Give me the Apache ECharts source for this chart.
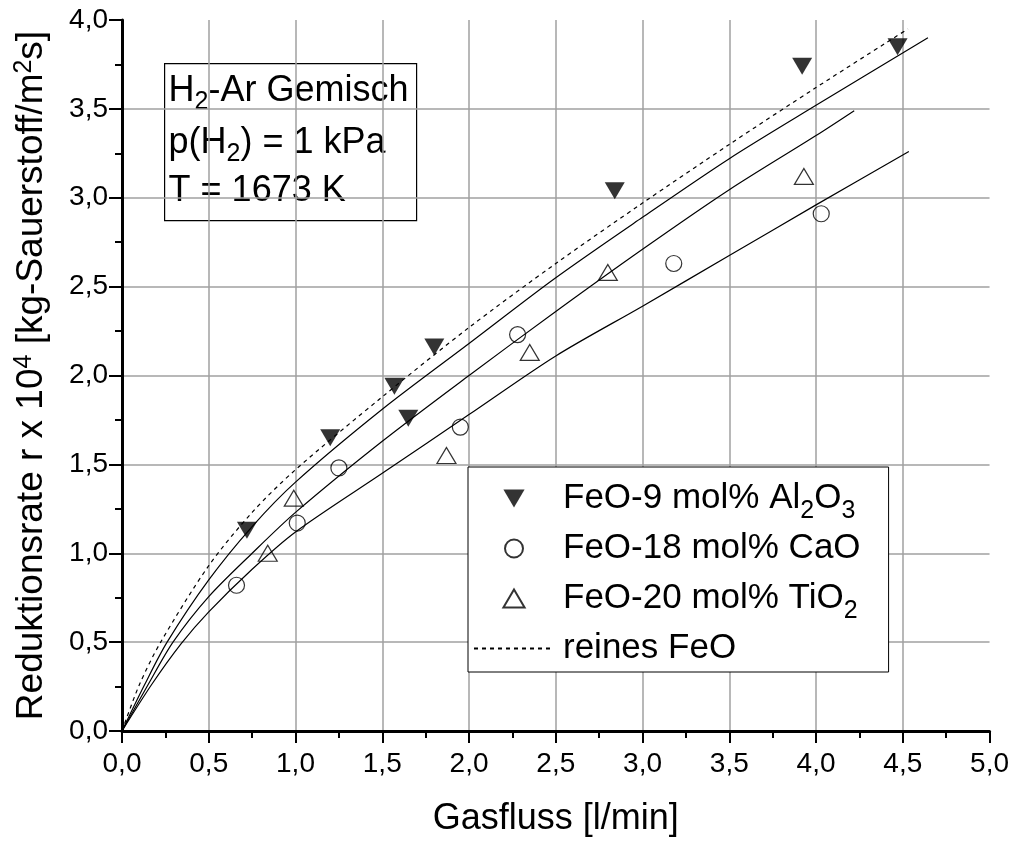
<!DOCTYPE html>
<html>
<head>
<meta charset="utf-8">
<script src="https://cdn.jsdelivr.net/npm/echarts@6/dist/echarts.min.js"></script>
<style>
html, body { margin: 0; padding: 0; background: #fff; }
#chart { width: 1012px; height: 842px; }
</style>
</head>
<body>
<div id="chart"></div>
<script>
// measured points [Gasfluss, rate]
var al2o3Pts = [[0.72, 1.13], [1.20, 1.65], [1.57, 1.94], [1.65, 1.76], [1.80, 2.16], [2.84, 3.04], [3.92, 3.74], [4.47, 3.85]];
var caoPts = [[0.66, 0.82], [1.01, 1.17], [1.25, 1.48], [1.95, 1.71], [2.28, 2.23], [3.18, 2.63], [4.03, 2.91]];
var tio2Pts = [[0.84, 1.00], [0.99, 1.31], [1.87, 1.55], [2.35, 2.13], [2.80, 2.58], [3.93, 3.12]];

// fit curves
var feoCurve = [[0, 0], [0.1, 0.26], [0.223, 0.5], [0.5, 0.93], [0.75, 1.23], [1, 1.47], [1.5, 1.88], [2, 2.27], [2.5, 2.63], [3, 2.97], [3.5, 3.30], [4, 3.62], [4.53, 3.95]];
var al2o3Curve = [[0, 0], [0.13, 0.26], [0.26, 0.5], [0.5, 0.85], [0.75, 1.15], [1, 1.40], [1.5, 1.81], [2, 2.18], [2.5, 2.55], [3, 2.89], [3.5, 3.22], [4, 3.52], [4.645, 3.90]];
var tio2Curve = [[0, 0], [0.15, 0.26], [0.294, 0.5], [0.5, 0.756], [0.75, 1.0], [1, 1.23], [1.5, 1.63], [2, 2.0], [2.5, 2.36], [3, 2.71], [3.5, 3.045], [4, 3.35], [4.22, 3.49]];
var caoCurve = [[0, 0], [0.17, 0.26], [0.34, 0.49], [0.5, 0.67], [0.75, 0.91], [1, 1.12], [1.5, 1.45], [2, 1.78], [2.5, 2.11], [3, 2.39], [3.5, 2.675], [4, 2.96], [4.535, 3.26]];

var legendNames = {
  al2o3: "{a|FeO-9 mol% Al}{s|2}{a|O}{s|3}",
  cao: "{a|FeO-18 mol% CaO}",
  tio2: "{a|FeO-20 mol% TiO}{s|2}",
  feo: "{a|reines FeO}"
};

var font = "Liberation Sans, Arial, sans-serif";
var downTri = "path://M0,0 L20,0 L10,17 Z";
var upTri = "path://M10,0 L20,17 L0,17 Z";

function comma(v) {
  return v.toFixed(1).replace(".", ",");
}

var myChart = echarts.init(document.getElementById("chart"));

var boxMain = { fontFamily: font, fontSize: 36, fill: "#000", lineHeight: 42 };
var boxSub = { fontFamily: font, fontSize: 25, fill: "#000", lineHeight: 42, padding: [24, 0, 0, 0] };

var Option = {
  backgroundColor: "#fff",
  animation: false,
  grid: { left: 122, right: 22, top: 20, bottom: 111 },
  xAxis: {
    type: "value",
    min: 0,
    max: 5,
    interval: 0.5,
    name: "Gasfluss [l/min]",
    nameLocation: "middle",
    nameGap: 70,
    nameTextStyle: { fontFamily: font, fontSize: 36, color: "#000" },
    axisLine: { onZero: false, lineStyle: { color: "#000", width: 3 } },
    axisTick: { inside: false, length: 12, lineStyle: { color: "#000", width: 2 } },
    minorTick: { show: true, splitNumber: 2, length: 7, lineStyle: { color: "#000", width: 2 } },
    axisLabel: { margin: 19, fontFamily: font, fontSize: 28, color: "#000", formatter: comma },
    splitLine: { show: true, showMinLine: false, showMaxLine: false, lineStyle: { color: "#a0a0a0", width: 1.5 } }
  },
  yAxis: {
    type: "value",
    min: 0,
    max: 4,
    interval: 0.5,
    name: "{a|Reduktionsrate r x 10}{p|4}{a| [kg-Sauerstoff/m}{p|2}{a|s]}",
    nameLocation: "middle",
    nameGap: 70,
    nameTextStyle: {
      fontFamily: font,
      color: "#000",
      rich: {
        a: { fontFamily: font, fontSize: 37, color: "#000", lineHeight: 40 },
        p: { fontFamily: font, fontSize: 25, color: "#000", verticalAlign: "top", lineHeight: 16 }
      }
    },
    axisLine: { onZero: false, lineStyle: { color: "#000", width: 3 } },
    axisTick: { inside: false, length: 13, lineStyle: { color: "#000", width: 2 } },
    minorTick: { show: true, splitNumber: 2, length: 7, lineStyle: { color: "#000", width: 2 } },
    axisLabel: { margin: 14, fontFamily: font, fontSize: 28, color: "#000", formatter: comma },
    splitLine: { show: true, showMinLine: false, showMaxLine: false, lineStyle: { color: "#a0a0a0", width: 1.5 } }
  },
  legend: {
    orient: "vertical",
    left: 468,
    top: 467,
    padding: [6, 28, 6, 5],
    itemGap: 7,
    itemWidth: 80,
    itemHeight: 18,
    backgroundColor: "#fff",
    borderColor: "#000",
    borderWidth: 1,
    borderRadius: 0,
    data: ["al2o3", "cao", "tio2", "feo"],
    formatter: function (n) { return legendNames[n]; },
    textStyle: {
      fontFamily: font,
      color: "#000",
      padding: [0, 0, 0, 4],
      rich: {
        a: { fontFamily: font, fontSize: 35, color: "#000", lineHeight: 36 },
        s: { fontFamily: font, fontSize: 25, color: "#000", lineHeight: 36, padding: [26, 0, 0, 0] }
      }
    }
  },
  graphic: [
    {
      type: "group",
      left: 164,
      top: 63,
      z: 10,
      children: [
        { type: "rect", shape: { x: 0, y: 0, width: 252, height: 157 }, style: { fill: "#fff", stroke: "#000", lineWidth: 1.2 } },
        { type: "text", x: 4, y: 6, style: { text: "{a|H}{s|2}{a|-Ar Gemisch}", rich: { a: boxMain, s: boxSub } } },
        { type: "text", x: 4, y: 58, style: { text: "{a|p(H}{s|2}{a|) = 1 kPa}", rich: { a: boxMain, s: boxSub } } },
        { type: "text", x: 4, y: 109, style: { text: "T = 1673 K", font: "36px " + font, fill: "#000" } }
      ]
    }
  ],
  series: [
    {
      name: "feo",
      type: "line",
      data: feoCurve,
      smooth: 0.3,
      symbol: "none",
      itemStyle: { color: "rgba(0,0,0,0)", borderColor: "rgba(0,0,0,0)" },
      lineStyle: { color: "#000", width: 1.2, type: [4, 4] },
      z: 2
    },
    {
      name: "al2o3fit",
      type: "line",
      data: al2o3Curve,
      smooth: 0.3,
      symbol: "none",
      lineStyle: { color: "#000", width: 1.2 },
      z: 2
    },
    {
      name: "tio2fit",
      type: "line",
      data: tio2Curve,
      smooth: 0.3,
      symbol: "none",
      lineStyle: { color: "#000", width: 1.2 },
      z: 2
    },
    {
      name: "caofit",
      type: "line",
      data: caoCurve,
      smooth: 0.3,
      symbol: "none",
      lineStyle: { color: "#000", width: 1.2 },
      z: 2
    },
    {
      name: "al2o3",
      type: "scatter",
      data: al2o3Pts,
      symbol: downTri,
      symbolSize: [20, 17],
      itemStyle: { color: "#000" },
      z: 3
    },
    {
      name: "cao",
      type: "scatter",
      data: caoPts,
      symbol: "circle",
      symbolSize: 16,
      itemStyle: { color: "rgba(255,255,255,0)", borderColor: "#000", borderWidth: 1.2 },
      z: 3
    },
    {
      name: "tio2",
      type: "scatter",
      data: tio2Pts,
      symbol: upTri,
      symbolSize: [19, 16],
      itemStyle: { color: "rgba(255,255,255,0)", borderColor: "#000", borderWidth: 1.2 },
      z: 3
    }
  ]
};
myChart.setOption(Option);
</script>
</body>
</html>
